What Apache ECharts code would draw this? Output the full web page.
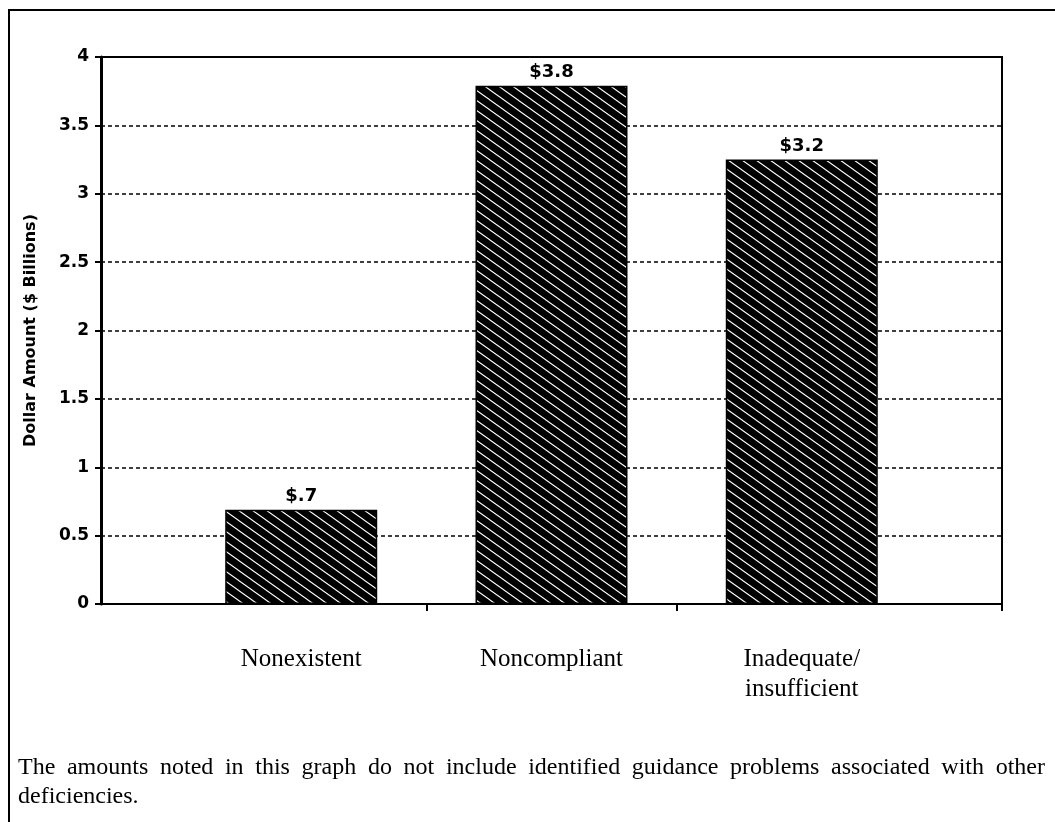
<!DOCTYPE html>
<html>
<head>
<meta charset="utf-8">
<script src="https://cdn.jsdelivr.net/npm/echarts@6/dist/echarts.min.js"></script>
<style>
  html, body { margin: 0; padding: 0; background: #fff; }
  #chart { width: 1055px; height: 822px; }
</style>
</head>
<body>
<div id="chart"></div>
<script>
const categories = ['Nonexistent', 'Noncompliant', 'Inadequate/\ninsufficient'];
const values = [0.69, 3.79, 3.25];
const valueLabels = ['$.7', '$3.8', '$3.2'];
const yAxisTitle = 'Dollar Amount ($ Billions)';
const footnote = [
  'The amounts noted in this graph do not include identified guidance problems associated with other',
  'deficiencies.'
];

// hatch pattern: black with white diagonal lines
const pc = document.createElement('canvas');
pc.width = 14; pc.height = 10;
const pctx = pc.getContext('2d');
pctx.fillStyle = '#000';
pctx.fillRect(0, 0, 14, 10);
pctx.strokeStyle = '#fff';
pctx.lineWidth = 1.1;
for (const dx of [-14, 0, 14]) {
  pctx.beginPath();
  pctx.moveTo(dx - 2, -2 * 10 / 14);
  pctx.lineTo(dx + 16, 10 + 2 * 10 / 14);
  pctx.stroke();
}

const serif = '"Liberation Serif", "Times New Roman", serif';
const sansBold = '"DejaVu Sans", sans-serif';
const footFont = '24px "Liberation Serif"';

// justify first footnote line
const mc = document.createElement('canvas').getContext('2d');
mc.font = footFont;
const footGraphics = [];
(function () {
  const words = footnote[0].split(' ');
  const widths = words.map(w => mc.measureText(w).width);
  const total = widths.reduce((a, b) => a + b, 0);
  const x0 = 18, x1 = 1045;
  const gap = (x1 - x0 - total) / (words.length - 1);
  let x = x0;
  words.forEach((w, i) => {
    footGraphics.push({
      type: 'text', x: x, y: 768,
      style: { text: w, font: footFont, fill: '#000', verticalAlign: 'middle' }
    });
    x += widths[i] + gap;
  });
  footGraphics.push({
    type: 'text', x: x0, y: 797,
    style: { text: footnote[1], font: footFont, fill: '#000', verticalAlign: 'middle' }
  });
})();

const chart = echarts.init(document.getElementById('chart'), null, { renderer: 'canvas' });
chart.setOption({
  animation: false,
  backgroundColor: '#fff',
  grid: {
    left: 101, top: 57, right: 53, bottom: 218,
    show: true, borderColor: '#000', borderWidth: 2, backgroundColor: 'transparent'
  },
  xAxis: {
    type: 'value',
    min: 0.2, max: 3.8,
    splitLine: { show: false },
    axisLine: { show: true, lineStyle: { color: '#000', width: 2 } },
    axisTick: { show: true, customValues: [1.5, 2.5, 3.8], length: 7, lineStyle: { color: '#000', width: 2 } },
    axisLabel: {
      customValues: [1, 2, 3],
      formatter: v => categories[Math.round(v) - 1] || '',
      margin: 40,
      fontFamily: serif, fontSize: 25, lineHeight: 30, color: '#000'
    }
  },
  yAxis: {
    type: 'value',
    min: 0, max: 4, interval: 0.5,
    name: yAxisTitle,
    nameLocation: 'middle',
    nameRotate: 90,
    nameGap: 62,
    nameTextStyle: { fontFamily: sansBold, fontWeight: 'bold', fontSize: 16, color: '#000' },
    axisLine: { show: true, lineStyle: { color: '#000', width: 3 } },
    axisTick: { show: true, length: 6, lineStyle: { color: '#000', width: 2 } },
    axisLabel: { fontFamily: sansBold, fontWeight: 'bold', fontSize: 17, color: '#000', margin: 12 },
    splitLine: { show: true, lineStyle: { color: '#000', width: 1.6, type: [4, 3] } }
  },
  series: [{
    type: 'bar',
    barWidth: 152,
    data: values.map((v, i) => [i + 1, v]),
    itemStyle: {
      color: { image: pc, repeat: 'repeat' },
      borderColor: '#000', borderWidth: 1.5
    },
    label: {
      show: true, position: 'top', distance: 4,
      formatter: p => valueLabels[p.dataIndex],
      fontFamily: sansBold, fontWeight: 'bold', fontSize: 18, color: '#000'
    }
  }],
  graphic: [
    {
      type: 'rect', z: 100,
      shape: { x: 9, y: 10, width: 1100, height: 900 },
      style: { fill: null, stroke: '#000', lineWidth: 2 }
    }
  ].concat(footGraphics)
});
</script>
</body>
</html>
